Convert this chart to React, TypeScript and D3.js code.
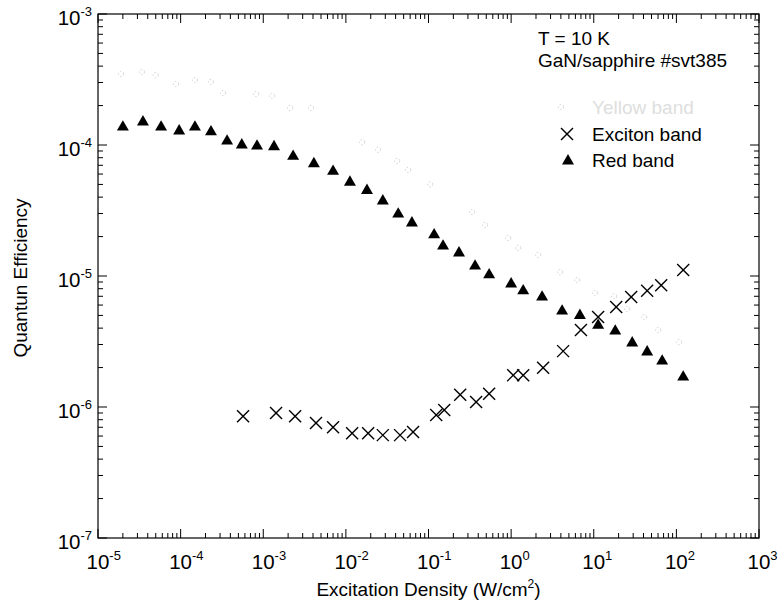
import React from "react";
import * as d3 from "d3";

// Excitation density (W/cm^2) and quantum efficiency
const redX = [2.0e-5, 3.5e-5, 5.8e-5, 9.6e-5, 1.49e-4, 2.33e-4, 3.65e-4, 5.5e-4, 8.4e-4, 1.35e-3, 2.3e-3, 4.1e-3, 7.0e-3, 1.12e-2, 1.8e-2, 2.8e-2, 4.3e-2, 6.3e-2, 0.117, 0.15, 0.234, 0.366, 0.542, 1.0, 1.4, 2.37, 4.14, 6.8, 11.3, 18.2, 29.2, 44.3, 67.3, 121];
const redY = [1.37e-4, 1.5e-4, 1.37e-4, 1.28e-4, 1.37e-4, 1.26e-4, 1.07e-4, 1.0e-4, 9.8e-5, 9.7e-5, 8.2e-5, 7.2e-5, 6.3e-5, 5.2e-5, 4.5e-5, 3.74e-5, 2.97e-5, 2.54e-5, 2.06e-5, 1.69e-5, 1.5e-5, 1.19e-5, 1.02e-5, 8.7e-6, 7.7e-6, 6.9e-6, 5.4e-6, 5.0e-6, 4.2e-6, 3.8e-6, 3.08e-6, 2.63e-6, 2.24e-6, 1.69e-6];

const excX = [5.7e-4, 1.43e-3, 2.43e-3, 4.35e-3, 7.0e-3, 1.19e-2, 1.86e-2, 2.8e-2, 4.53e-2, 6.5e-2, 0.124, 0.155, 0.242, 0.377, 0.542, 1.06, 1.4, 2.44, 4.26, 7.0, 11.3, 18.7, 28.4, 44.3, 65.5, 121];
const excY = [8.5e-7, 9.0e-7, 8.5e-7, 7.55e-7, 7.0e-7, 6.3e-7, 6.3e-7, 6.1e-7, 6.1e-7, 6.45e-7, 8.7e-7, 9.5e-7, 1.24e-6, 1.09e-6, 1.26e-6, 1.75e-6, 1.75e-6, 1.99e-6, 2.67e-6, 3.87e-6, 4.86e-6, 5.8e-6, 6.9e-6, 7.7e-6, 8.5e-6, 1.11e-5];

const grayX = [1.9e-5, 3.4e-5, 5.0e-5, 8.8e-5, 1.49e-4, 2.33e-4, 3.26e-4, 8.2e-4, 1.28e-3, 2.11e-3, 3.79e-3, 1.57e-2, 2.45e-2, 4.17e-2, 5.66e-2, 0.105, 0.337, 0.484, 0.92, 1.22, 2.12, 3.92, 6.3, 10.4, 17.7, 25.4, 40.7, 60.3, 108];
const grayY = [3.48e-4, 3.61e-4, 3.42e-4, 2.92e-4, 3.13e-4, 3.03e-4, 2.49e-4, 2.45e-4, 2.37e-4, 1.92e-4, 1.92e-4, 1.05e-4, 9.2e-5, 7.55e-5, 6.45e-5, 5.0e-5, 3.08e-5, 2.45e-5, 1.95e-5, 1.64e-5, 1.45e-5, 1.07e-5, 9.3e-6, 7.4e-6, 7.0e-6, 5.6e-6, 4.86e-6, 3.87e-6, 3.13e-6];

const xDecades = [-5, -4, -3, -2, -1, 0, 1, 2, 3];
const yDecades = [-7, -6, -5, -4, -3];
const legendLabels = ["Yellow band", "Exciton band", "Red band"];
const noteLines = ["T = 10 K", "GaN/sapphire #svt385"];

const W = 780, H = 608;
const L = 98, R = 759, T = 14, B = 538;
const FONT = "'Liberation Sans', Arial, Helvetica, sans-serif";

export default function App() {
  const x = d3.scaleLog().domain([1e-5, 1e3]).range([L, R]);
  const y = d3.scaleLog().domain([1e-7, 1e-3]).range([B, T]);
  const xt = x.ticks();
  const yt = y.ticks();
  const isMajor = (v: number) => Math.abs(Math.log10(v) - Math.round(Math.log10(v))) < 1e-6;
  const tri = d3.symbol(d3.symbolTriangle, 62)()!;
  const cross = (cx: number, cy: number, k: string) => (
    <g key={k} stroke="#000" strokeWidth={1.4}>
      <line x1={cx - 6} y1={cy - 6} x2={cx + 6} y2={cy + 6} />
      <line x1={cx - 6} y1={cy + 6} x2={cx + 6} y2={cy - 6} />
    </g>
  );
  return (
    <svg width={W} height={H} style={{ position: "absolute", left: 0, top: 0, background: "#fff" }} fontFamily={FONT}>
      <rect x={0} y={0} width={W} height={H} fill="#fff" />
      {/* frame */}
      <rect x={L} y={T} width={R - L} height={B - T} fill="none" stroke="#000" strokeWidth={1.2} />
      {/* x ticks bottom & top */}
      {xt.map((v, i) => {
        const len = isMajor(v) ? 9 : 5;
        const px = x(v);
        return (
          <g key={"xt" + i} stroke="#000" strokeWidth={1}>
            <line x1={px} x2={px} y1={B} y2={B - len} />
            <line x1={px} x2={px} y1={T} y2={T + len} />
          </g>
        );
      })}
      {yt.map((v, i) => {
        const len = isMajor(v) ? 9 : 5;
        const py = y(v);
        return (
          <g key={"yt" + i} stroke="#000" strokeWidth={1}>
            <line x1={L} x2={L + len} y1={py} y2={py} />
            <line x1={R} x2={R - len} y1={py} y2={py} />
          </g>
        );
      })}
      {/* x tick labels */}
      {xDecades.map((d) => (
        <text key={"xl" + d} x={x(Math.pow(10, d)) - 11.5} y={569} fontSize={20.5} fill="#000">
          10<tspan fontSize={13} dy={-9}>{d}</tspan>
        </text>
      ))}
      {/* y tick labels */}
      {yDecades.map((d) => (
        <text key={"yl" + d} x={L - 6} y={y(Math.pow(10, d)) + 11} fontSize={20.5} fill="#000" textAnchor="end">
          10<tspan fontSize={13} dy={-9}>{d}</tspan>
        </text>
      ))}
      {/* axis titles */}
      <text x={(L + R) / 2} y={596} fontSize={19} textAnchor="middle" fill="#000">
        Excitation Density (W/cm<tspan fontSize={12} dy={-8}>2</tspan><tspan dy={8}>)</tspan>
      </text>
      <text transform={`translate(27,${(T + B) / 2 + 2}) rotate(-90)`} fontSize={19} textAnchor="middle" fill="#000">
        Quantun Efficiency
      </text>
      {/* gray faded series */}
      {grayX.map((v, i) => (
        <circle key={"g" + i} cx={x(v)} cy={y(grayY[i])} r={2.6} fill="none" stroke="#cbcbcb" strokeWidth={0.9} strokeDasharray="1.5 2" />
      ))}
      {/* red band */}
      {redX.map((v, i) => (
        <path key={"r" + i} d={tri} transform={`translate(${x(v)},${y(redY[i])})`} fill="#000" />
      ))}
      {/* exciton band */}
      {excX.map((v, i) => cross(x(v), y(excY[i]), "e" + i))}
      {/* annotation */}
      {noteLines.map((t, i) => (
        <text key={"n" + i} x={538} y={45 + i * 22} fontSize={19} fill="#000">{t}</text>
      ))}
      {/* legend */}
      <circle cx={561} cy={107} r={2.6} fill="none" stroke="#cbcbcb" strokeWidth={0.9} strokeDasharray="1.5 2" />
      <text x={592} y={114} fontSize={19} fill="#dedede">{legendLabels[0]}</text>
      {cross(567, 134, "lx")}
      <text x={592} y={141} fontSize={19} fill="#000">{legendLabels[1]}</text>
      <path d={tri} transform="translate(568,161)" fill="#000" />
      <text x={592} y={167} fontSize={19} fill="#000">{legendLabels[2]}</text>
    </svg>
  );
}
